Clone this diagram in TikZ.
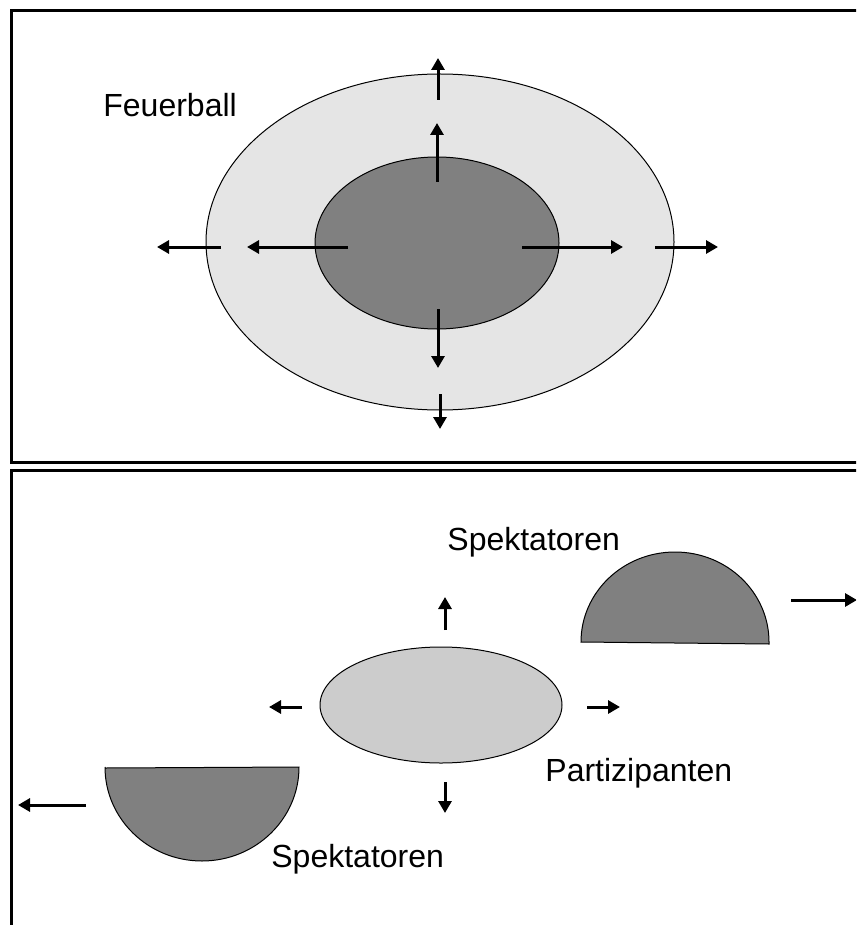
\documentclass[tikz,border=0pt]{standalone}
\usepackage{fontspec}
\setmainfont{Liberation Sans}
\usepackage{tikz}
\usetikzlibrary{arrows.meta}

\begin{document}
\begin{tikzpicture}[x=0.5pt, y=-0.5pt, font=\fontsize{16}{19}\selectfont,
  frame/.style={line width=1.5pt},
  blob/.style={draw=black, line width=0.5pt},
  word/.style={anchor=base west, inner sep=0pt},
  arr/.style={-{Triangle[length=6pt, width=6.5pt]}, line width=1.5pt, black}]
\useasboundingbox (0,0) rectangle (856,925);
\clip (0,0) rectangle (856,925);

% upper panel: fireball
\draw[frame] (870,11) -| (11,462) -- (870,462);
\draw[blob, fill=gray!20] (440,242) ellipse [x radius=234, y radius=168];
\draw[blob, fill=gray] (437,243) ellipse [x radius=122, y radius=86];
\node[word] (feuer) at (103,117) {Feuerball};
\draw[arr] (221,247) -- (157,247); \draw[arr] (348,247) -- (247,247);
\draw[arr] (522,247) -- (623,247); \draw[arr] (655,247) -- (718,247);
\draw[arr] (438,100) -- (438,58); \draw[arr] (437,182) -- (437,123);
\draw[arr] (438,309) -- (438,368); \draw[arr] (440,394) -- (440,429);

% lower panel: participants and spectators
\draw[frame] (870,470) -| (11,940);
\draw[blob, fill=black!20] (441,705) ellipse [x radius=121, y radius=58];
\draw[blob, fill=gray] (769,644) -- (581,642) arc [start angle=180, end angle=360, x radius=94, y radius=90] -- cycle;
\draw[blob, fill=gray] (105,768) -- (299,767) arc [start angle=0, end angle=180, x radius=97, y radius=94] -- cycle;
\node[word] (spekoben) at (447,550) {Spektatoren};
\node[word] (partiz) at (545,781) {Partizipanten};
\node[word] (spekunten) at (271,867) {Spektatoren};
\draw[arr] (445,630) -- (445,597); \draw[arr] (445,782) -- (445,813);
\draw[arr] (302,707) -- (269,707); \draw[arr] (587,707) -- (620,707);
\draw[arr] (791,600) -- (857,600); \draw[arr] (86,805) -- (18,805);
\end{tikzpicture}
\end{document}
